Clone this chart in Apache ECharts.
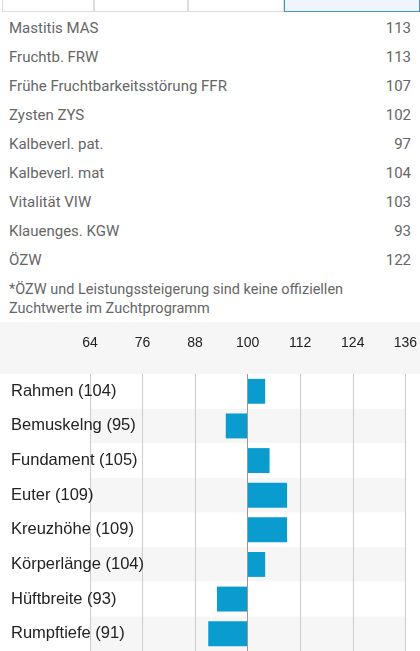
<!DOCTYPE html>
<html><head><meta charset="utf-8">
<script src="https://cdn.jsdelivr.net/npm/echarts@6/dist/echarts.min.js"></script>
<style>
body{margin:0;width:420px;height:651px;overflow:hidden;background:#fff;font-family:Roboto,"Noto Sans",sans-serif}
#tabs{position:absolute;top:-2px;left:2px;right:0;height:14px;display:flex}
#tabs div{border:1px solid #ddd;border-top:none;height:13px}
#tbl{position:absolute;top:14px;left:9px;right:9px;color:#666;font-size:15px}
.row{height:29px;line-height:29px;display:flex;justify-content:space-between}
#note{position:absolute;top:280px;left:9px;right:9px;color:#666;font-size:14.5px;line-height:19px}
#chart{position:absolute;top:322px;left:0;width:420px;height:329px}
</style></head><body>
<div id="tabs"><div style="width:90px"></div><div style="width:92px"></div><div style="width:94px"></div><div style="flex:1;background:#eef5fc;border-color:#4a90c8"></div></div>
<div id="tbl"></div>
<div id="note">*ÖZW und Leistungssteigerung sind keine offiziellen Zuchtwerte im Zuchtprogramm</div>
<div style="position:absolute;top:322px;left:0;width:420px;height:52px;background:#f6f6f6"></div>
<div id="chart"></div>
<script>
var table_names = ['Mastitis MAS','Fruchtb. FRW','Frühe Fruchtbarkeitsstörung FFR','Zysten ZYS','Kalbeverl. pat.','Kalbeverl. mat','Vitalität VIW','Klauenges. KGW','ÖZW'];
var table_values = [113,113,107,102,97,104,103,93,122];
var traits = ['Rahmen','Bemuskelng','Fundament','Euter','Kreuzhöhe','Körperlänge','Hüftbreite','Rumpftiefe'];
var values = [104,95,105,109,109,104,93,91];

var rows = '';
for(var i = 0; i < table_names.length; i++){
  rows += "<div class='row'><span>"+table_names[i]+"</span><span>"+table_values[i]+"</span></div>";
}
document.getElementById('tbl').innerHTML = rows;

var labels = traits.map(function(t, i){ return t+' ('+values[i]+')'; });
var base = values.map(function(v){ return Math.min(v,100); });
var diff = values.map(function(v){ return Math.abs(v-100); });

var option = {
  animation: false,
  grid: {left: 90, right: 10, top: 52, bottom: -24, containLabel: false},
  xAxis: {
    type: 'value', position: 'top', min: 64, max: 136, interval: 12,
    axisLine: {show: false}, axisTick: {show: false},
    axisLabel: {color: '#222', fontSize: 14, margin: 24},
    splitLine: {showMinLine: true, showMaxLine: true, lineStyle: {color: '#ccc', width: 1}}
  },
  yAxis: {
    type: 'category', inverse: true, data: labels,
    axisLine: {show: false}, axisTick: {show: false},
    axisLabel: {color: '#222', fontSize: 16.5, align: 'left', margin: 79},
    splitArea: {show: true, areaStyle: {color: ['#ffffff', '#f6f6f6']}}
  },
  series: [
    {type: 'bar', stack: 's', data: base, itemStyle: {color: 'transparent'}, barWidth: '72%', silent: true},
    {type: 'bar', stack: 's', data: diff, itemStyle: {color: '#0a9bcf'}, barWidth: '72%',
     markLine: {symbol: 'none', silent: true, label: {show: false}, lineStyle: {color: '#999', type: 'solid', width: 1}, data: [{xAxis: 100}]}}
  ]
};
var chart = echarts.init(document.getElementById('chart'));
chart.setOption(option);
</script>
</body></html>
